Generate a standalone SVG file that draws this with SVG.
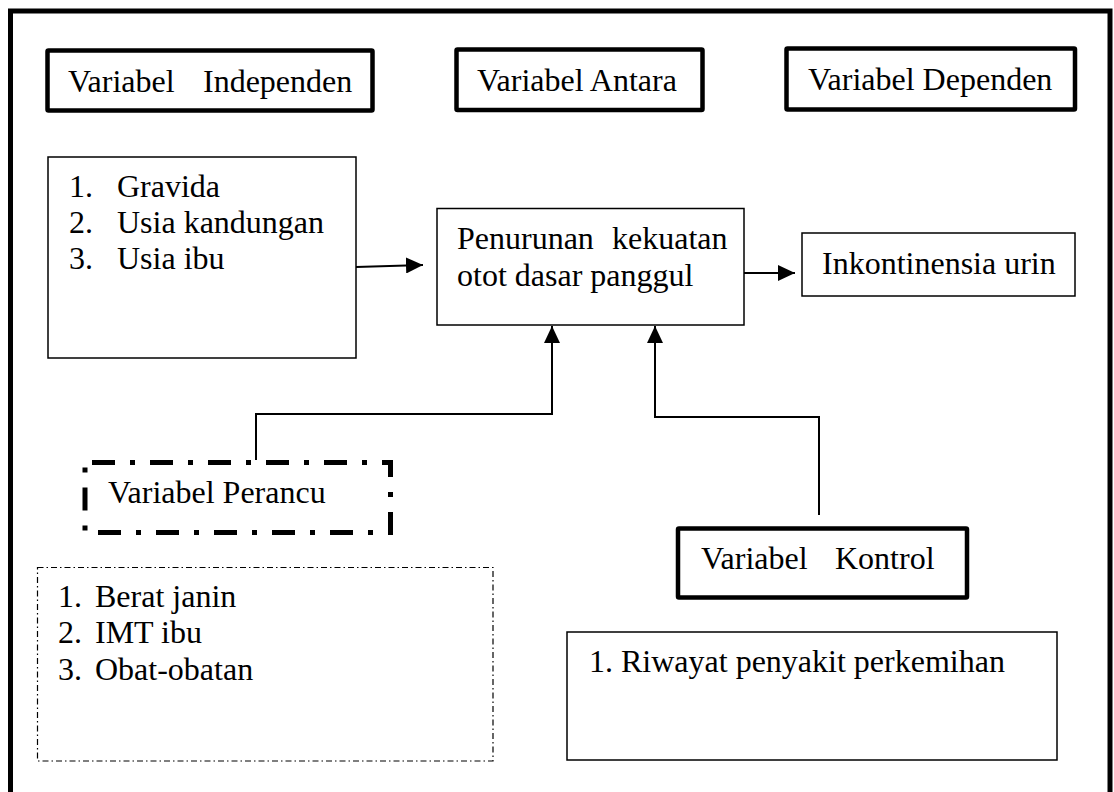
<svg xmlns="http://www.w3.org/2000/svg" width="1114" height="792" viewBox="0 0 1114 792">
<style>
text{font-family:"Liberation Serif","Times New Roman",serif;font-size:32px;fill:#000}
.thick{fill:#fff;stroke:#000;stroke-width:4.5;stroke-linejoin:round}
.thin{fill:#fff;stroke:#000;stroke-width:1.5}
.conn{fill:none;stroke:#000;stroke-width:2}
</style>
<defs>
<marker id="arr" markerUnits="userSpaceOnUse" markerWidth="18" markerHeight="16" viewBox="0 0 18 16" refX="17" refY="8" orient="auto">
<path d="M0,0 L17,8 L0,16 Z" fill="#000"/>
</marker>
</defs>
<rect width="1114" height="792" fill="#fff"/>
<rect id="frame" x="10.5" y="11" width="1099.5" height="800" fill="none" stroke="#000" stroke-width="5"/>

<g id="independen"><rect class="thick" x="47.5" y="50.5" width="325" height="60" rx="1"/><text y="92"><tspan x="68">Variabel</tspan><tspan x="203">Independen</tspan></text></g>
<g id="antara"><rect class="thick" x="456.5" y="49.5" width="246" height="60.5" rx="1"/><text x="477" y="91">Variabel Antara</text></g>
<g id="dependen"><rect class="thick" x="786.5" y="48.5" width="288.5" height="61" rx="1"/><text x="808" y="90">Variabel Dependen</text></g>

<g id="list-independen"><rect class="thin" x="48" y="157" width="308" height="201"/>
<text><tspan x="69" y="197">1.</tspan><tspan x="117" y="197">Gravida</tspan><tspan x="69" y="233">2.</tspan><tspan x="117" y="233">Usia kandungan</tspan><tspan x="69" y="269">3.</tspan><tspan x="117" y="269">Usia ibu</tspan></text></g>

<g id="penurunan"><rect class="thin" x="437" y="208.5" width="307" height="116.5"/>
<text><tspan x="457" y="249">Penurunan</tspan><tspan x="612" y="249">kekuatan</tspan><tspan x="457" y="286">otot dasar panggul</tspan></text></g>

<g id="inkontinensia"><rect class="thin" x="802" y="233" width="273" height="63"/><text x="822" y="274">Inkontinensia urin</text></g>

<g id="perancu"><rect x="85" y="462.5" width="305.5" height="70" fill="#fff" stroke="#000" stroke-width="5" stroke-dasharray="23 15 5 15" stroke-dashoffset="51"/><text x="108" y="503">Variabel Perancu</text></g>

<g id="list-perancu"><rect x="37.5" y="567.5" width="455.5" height="193.5" fill="#fff" stroke="#000" stroke-width="1.2" stroke-dasharray="6 3 1.5 3"/>
<text><tspan x="58" y="607">1.</tspan><tspan x="95" y="607">Berat janin</tspan><tspan x="58" y="643">2.</tspan><tspan x="95" y="643">IMT ibu</tspan><tspan x="58" y="680">3.</tspan><tspan x="95" y="680">Obat-obatan</tspan></text></g>

<g id="kontrol"><rect class="thick" x="678" y="528.5" width="289" height="69" rx="1"/><text y="569"><tspan x="701">Variabel</tspan><tspan x="835">Kontrol</tspan></text></g>

<g id="list-kontrol"><rect class="thin" x="567" y="632" width="490" height="128"/><text x="589" y="672">1. Riwayat penyakit perkemihan</text></g>

<g id="connectors">
<path class="conn" d="M356,267 L423,265" marker-end="url(#arr)"/>
<path class="conn" d="M744,273 L795,273" marker-end="url(#arr)"/>
<path class="conn" d="M256,460 L256,414 L552,414 L552,326" marker-end="url(#arr)"/>
<path class="conn" d="M819,515 L819,417 L655,417 L655,326" marker-end="url(#arr)"/>
</g>
</svg>
